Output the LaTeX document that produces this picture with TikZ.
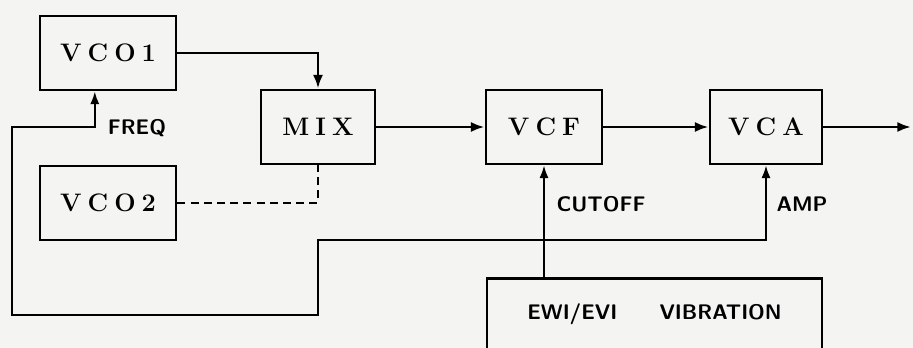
\documentclass[tikz,border=0pt]{standalone}
\usepackage{tikz}
\usetikzlibrary{arrows.meta,positioning}
\definecolor{paper}{RGB}{244,244,242}
\newcommand{\lgap}{\hspace{0.24em}}

\begin{document}
\begin{tikzpicture}[x=0.025cm, y=-0.025cm,
    block/.style={draw, line width=2pt, minimum width=3.4cm, minimum height=1.85cm, font=\fontsize{18}{20}\selectfont\bfseries},
    lbl/.style={font=\sffamily\bfseries\fontsize{15}{17}\selectfont},
    arrow/.style={-{Latex[length=3.4mm,width=2.5mm]}, line width=1.9pt},
    ctrl/.style={-{Latex[length=3.2mm,width=2.3mm]}, line width=1.4pt}
]

% Paper
\useasboundingbox (0,0) rectangle (913,348);
\fill[paper] (0,0) rectangle (913,348);
\clip (0,0) rectangle (913,348);

% Blocks
\node[block] (vco1) at (108,53) {V\lgap C\lgap O\lgap 1};
\node[block] (vco2) at (108,203) {V\lgap C\lgap O\lgap 2};
\node[block, minimum width=2.85cm] (mix) at (318,127) {M\lgap I\lgap X};
\node[block, minimum width=2.9cm] (vcf) at (544,127) {V\lgap C\lgap F};
\node[block, minimum width=2.8cm] (vca) at (766,127) {V\lgap C\lgap A};
\node[draw, line width=2pt, lbl, anchor=north, minimum width=8.375cm, text height=0.92cm, text depth=1cm] (ewi) at (654.5,277) {EWI/EVI\qquad VIBRATION};

% Signal path
\draw[arrow] (vco1.east) -| (mix.north);
\draw[dashed, dash pattern=on 2mm off 1.3mm, line width=1.6pt] (vco2.east) -| (mix.south);
\draw[arrow] (mix) -- (vcf);
\draw[arrow] (vcf) -- (vca);
\coordinate (out) at (911,127);
\draw[arrow] (vca) -- (out);

% Control
\coordinate (jn) at (544,240);
\draw[ctrl] (vcf.south |- ewi.north) -- (vcf.south);
\draw[ctrl] (jn) -| (vca.south);
\draw[ctrl] (jn) -| (318,315) -| (12,127) -| ([xshift=-0.33cm]vco1.south);

% Labels
\node[lbl] (freq) at (137,128) {FREQ};
\node[lbl] (cutoff) at (601,204) {CUTOFF};
\node[lbl] (amp) at (802,204) {AMP};

\end{tikzpicture}
\end{document}
